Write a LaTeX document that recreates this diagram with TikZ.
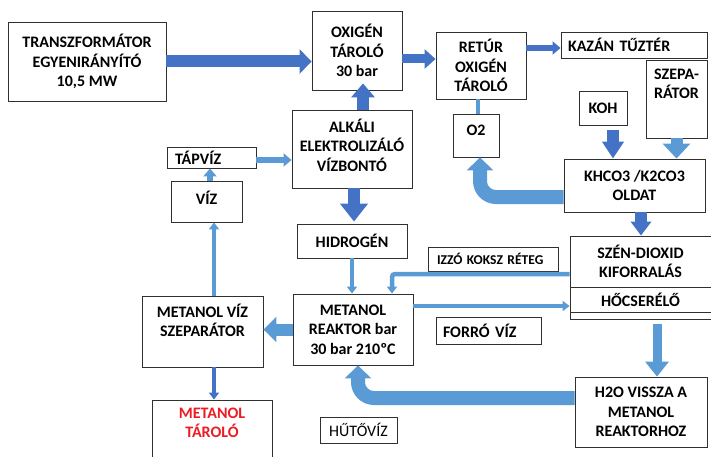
\documentclass[tikz,border=0pt]{standalone}
\usepackage{fontspec}
\setmainfont{Carlito}
\usetikzlibrary{arrows.meta, calc, positioning}
\definecolor{flowdark}{HTML}{4472C4}
\definecolor{flowlight}{HTML}{5B9BD5}
\definecolor{boxline}{HTML}{303030}
\definecolor{storered}{HTML}{ED1C24}
\tikzstyle{unit} = [rectangle, draw=boxline, fill=white, line width=0.9pt, inner sep=2pt, align=center, font=\bfseries\fontsize{16}{19.5}\selectfont]
\tikzstyle{leftunit} = [unit, align=left, inner xsep=7pt]
\tikzstyle{widearrow} = [line width=12pt, -{Triangle[width=24pt, length=12pt]}]
\tikzstyle{midarrow} = [line width=9pt, -{Triangle[width=19pt, length=11pt]}]
\tikzstyle{slimarrow} = [line width=6pt, -{Triangle[width=13pt, length=8pt]}]
\tikzstyle{thinarrow} = [line width=4.5pt, -{Triangle[width=10pt, length=7pt]}]
\tikzstyle{bendarrow} = [line width=14pt, rounded corners=16pt, -{Triangle[width=26pt, length=13pt]}]
\tikzstyle{pipe} = [line width=4pt]

\begin{document}
\begin{tikzpicture}[x=1pt, y=-1pt]
\useasboundingbox [fill=white] (0,0) rectangle (711,457);

% upper row
\node (trafo) [unit, minimum width=158, minimum height=79] at (87,61.5) {TRANSZFORMÁTOR\\EGYENIRÁNYÍTÓ\\10,5 MW};
\node (oxigen) [unit, minimum width=90, minimum height=79] at (357,50.5) {OXIGÉN\\TÁROLÓ\\30 bar};
\node (retur) [unit, minimum width=90, minimum height=67] at (481,65.5) {RETÚR\\OXIGÉN\\TÁROLÓ};
\node (kazan) [leftunit, text width=132, minimum height=26] at (634,45) {KAZÁN TŰZTÉR};
\node (szepa) [unit, minimum width=61, minimum height=78, text depth=30pt] at (676.5,99) {SZEPA-\\RÁTOR};
\node (koh) [unit, minimum width=48, minimum height=34] at (603,108) {KOH};
\node (o2) [unit, minimum width=46, minimum height=43, text depth=10pt] at (476,135.5) {O2};
\node (alkali) [unit, minimum width=120, minimum height=78, text depth=8pt] at (352,149) {ALKÁLI\\ELEKTROLIZÁLÓ\\VÍZBONTÓ};
\node (tapviz) [leftunit, inner xsep=8pt, inner ysep=1pt, text width=73, minimum height=21] at (211.5,157.5) {TÁPVÍZ};
\node (viz) [unit, minimum width=71, minimum height=41, text depth=8pt] at (206.5,201.5) {VÍZ};
\node (khco3) [unit, minimum width=141, minimum height=53] at (634.5,185.5) {KHCO3 /K2CO3\\OLDAT};

% middle row
\node (hidrogen) [unit, minimum width=110, minimum height=34] at (352,241) {HIDROGÉN};
\node (szendioxid) [unit, minimum width=141, minimum height=51] at (640.5,261.5) {SZÉN-DIOXID\\KIFORRALÁS};
\node (hocserelo) [unit, minimum width=141, minimum height=25] at (640.5,299.5) {HŐCSERÉLŐ};
\node (hocs_alja) [unit, inner sep=0pt, minimum width=141, minimum height=7, anchor=north] at (hocserelo.south) {};
\node (izzo) [leftunit, inner xsep=9pt, inner ysep=1pt, text width=112, minimum height=24, font=\bfseries\fontsize{13.5}{15}\selectfont] at (493,259) {IZZÓ KOKSZ RÉTEG};
\node (reaktor) [unit, minimum width=120, minimum height=71] at (353,329.5) {METANOL\\REAKTOR bar\\30 bar 210ºC};
\node (forro) [leftunit, text width=91, minimum height=27] at (488.5,330.5) {FORRÓ VÍZ};
\node (szep) [unit, minimum width=121, minimum height=71, text depth=22pt] at (202.5,331.5) {METANOL VÍZ\\SZEPARÁTOR};

% lower row
\node (tarolo) [unit, minimum width=120, minimum height=70, text depth=25pt, text=storered] at (212,435) {METANOL\\TÁROLÓ};
\node (hutoviz) [unit, minimum width=77, minimum height=26, font=\fontsize{16}{19.5}\selectfont] at (358.5,430) {HŰTŐVÍZ};
\node (h2o) [unit, minimum width=132, minimum height=70] at (641,412) {H2O VISSZA A\\METANOL\\REAKTORHOZ};

% oxygen side
\draw [widearrow, draw=flowdark] (trafo.east) -- (trafo.east -| oxigen.west);
\draw [midarrow, draw=flowdark] ($(oxigen.east)+(0,8.5)$) -- ($(oxigen.east -| retur.west)+(0,8.5)$);
\draw [slimarrow, draw=flowdark] ($(kazan.west -| retur.east)+(0,3)$) -- ($(kazan.west)+(0,3)$);
\draw [widearrow, -{Triangle[width=23pt, length=14pt]}, draw=flowdark] ($(alkali.north)+(11,0)$) -- ($(alkali.north |- oxigen.south)+(11,-7)$);
\draw [widearrow, -{Triangle[width=27pt, length=18pt]}, draw=flowdark] ($(alkali.south)+(2,0)$) -- ($(alkali.south |- hidrogen.north)+(2,-2)$);
\draw [pipe, draw=flowlight] ($(o2.north)+(2,0)$) -- ($(o2.north |- retur.south)+(2,0)$);
\draw [bendarrow, draw=flowlight] ($(khco3.west)+(0,11.5)$) -| ($(o2.south)+(4,0)$);
\draw [widearrow, -{Triangle[width=21pt, length=17pt]}, draw=flowdark] ($(koh.south)+(10,5)$) -- ($(koh.south |- khco3.north)+(10,0)$);
\draw [widearrow, -{Triangle[width=27pt, length=15pt]}, draw=flowlight] (szepa.south) -- (szepa.south |- khco3.north);
\draw [widearrow, -{Triangle[width=20pt, length=14pt]}, draw=flowdark] ($(khco3.south)+(6.5,0)$) -- ($(khco3.south |- szendioxid.north)+(6.5,0)$);

% water side
\draw [slimarrow, draw=flowlight] ($(tapviz.east)+(0,2.5)$) -- ($(tapviz.east -| alkali.west)+(0,2.5)$);
\draw [slimarrow, draw=flowlight] ($(viz.north)+(3.5,0)$) -- ($(viz.north |- tapviz.south)+(3.5,0)$);
\draw [thinarrow, draw=flowlight] ($(szep.north)+(11.5,0)$) -- ($(szep.north |- viz.south)+(11.5,0)$);
\draw [thinarrow, draw=flowdark] ($(tarolo.north |- szep.south)+(2,0)$) -- ($(tarolo.north)+(2,0)$);

% methanol reactor
\draw [thinarrow, draw=flowlight] (hidrogen.south) -- (hidrogen.south |- reaktor.north);
\draw [widearrow, -{Triangle[width=25pt, length=13pt]}, draw=flowlight] (reaktor.west) -- (reaktor.west -| szep.east);
\draw [thinarrow, rounded corners=3pt, draw=flowlight] ($(szendioxid.west)+(0,12.5)$) -| ($(reaktor.north)+(39,0)$);
\draw [thinarrow, draw=flowlight] ($(reaktor.east)+(0,-23.5)$) -- ($(reaktor.east -| hocserelo.west)+(0,-23.5)$);
\draw [midarrow, -{Triangle[width=23pt, length=15pt]}, draw=flowlight] ($(h2o.north |- hocs_alja.south)+(16,4)$) -- ($(h2o.north)+(16,0)$);
\draw [bendarrow, draw=flowlight] ($(h2o.west)+(0,-14)$) -| ($(reaktor.south)+(5,0)$);

\end{tikzpicture}
\end{document}
